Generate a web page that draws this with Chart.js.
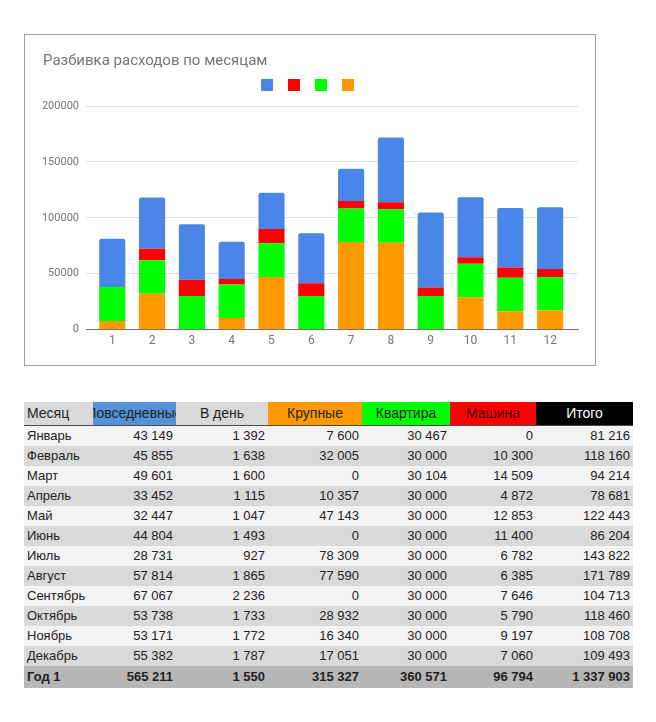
<!DOCTYPE html>
<html>
<head>
<meta charset="utf-8">
<script src="https://cdn.jsdelivr.net/npm/chart.js@4/dist/chart.umd.min.js"></script>
<style>
  html, body { margin: 0; padding: 0; background: #ffffff; }
  body { width: 656px; height: 722px; position: relative; overflow: hidden; }
  #chartBox { position: absolute; left: 24px; top: 34px; width: 570px; height: 330px; border: 1px solid #9e9e9e; }
  #chartBox canvas { display: block; }
  #tbl { position: absolute; left: 24px; top: 402px; border-collapse: collapse; table-layout: fixed; width: 609px;
         font-family: "Liberation Sans", Arial, sans-serif; font-size: 13px; color: #222; }
  #tbl td { padding: 0 3px; height: 20px; line-height: 20px; white-space: nowrap; overflow: hidden; text-align: right; box-sizing: border-box; }
  #tbl td.m { text-align: left; }
  #tbl thead td { height: 23px; line-height: 22px; font-size: 14px; text-align: center; padding: 0; border-bottom: 1px solid #4a4a4a; }
  #tbl thead td.m { text-align: left; padding-left: 3px; }
  #tbl thead td .c { display: flex; justify-content: center; overflow: hidden; white-space: nowrap; }
  #tbl tbody tr:nth-child(odd) td { background: #f3f3f3; }
  #tbl tbody tr:nth-child(even) td { background: #d9d9d9; }
  #tbl tfoot td { background: #b7b7b7; font-weight: bold; height: 22px; line-height: 22px; }
</style>
</head>
<body>
<div id="chartBox"><canvas id="c" width="570" height="330"></canvas></div>
<table id="tbl">
  <colgroup>
    <col style="width:69px"><col style="width:83px"><col style="width:92px"><col style="width:94px">
    <col style="width:88px"><col style="width:86px"><col style="width:97px">
  </colgroup>
  <thead><tr id="hdr"></tr></thead>
  <tbody id="body"></tbody>
  <tfoot><tr id="foot"></tr></tfoot>
</table>
<script>
// ---- data ----
const monthNums   = ['1','2','3','4','5','6','7','8','9','10','11','12'];
const monthNames  = ['Январь','Февраль','Март','Апрель','Май','Июнь','Июль','Август','Сентябрь','Октябрь','Ноябрь','Декабрь'];
const everyday    = [43149, 45855, 49601, 33452, 32447, 44804, 28731, 57814, 67067, 53738, 53171, 55382];
const perDay      = [1392, 1638, 1600, 1115, 1047, 1493, 927, 1865, 2236, 1733, 1772, 1787];
const large       = [7600, 32005, 0, 10357, 47143, 0, 78309, 77590, 0, 28932, 16340, 17051];
const apartment   = [30467, 30000, 30104, 30000, 30000, 30000, 30000, 30000, 30000, 30000, 30000, 30000];
const car         = [0, 10300, 14509, 4872, 12853, 11400, 6782, 6385, 7646, 5790, 9197, 7060];
const totals      = [81216, 118160, 94214, 78681, 122443, 86204, 143822, 171789, 104713, 118460, 108708, 109493];
const yearLabel   = 'Год 1';
const yearRow     = [565211, 1550, 315327, 360571, 96794, 1337903];
const headers     = ['Месяц','Повседневные','В день','Крупные','Квартира','Машина','Итого'];
const yTicks      = [0, 50000, 100000, 150000, 200000];
const chartTitle  = 'Разбивка расходов по месяцам';

// ---- table ----
const headerStyles = [
  {bg:'#d9d9d9', fg:'#222'}, {bg:'#5592d8', fg:'#222'}, {bg:'#d9d9d9', fg:'#222'},
  {bg:'#ff9900', fg:'#222'}, {bg:'#00ff00', fg:'#222'}, {bg:'#ff0000', fg:'#3a0000'}, {bg:'#000000', fg:'#ffffff'}
];
function fmt(n){ return String(n).replace(/\B(?=(\d{3})+(?!\d))/g, ' '); }
const hdr = document.getElementById('hdr');
headers.forEach((h, i) => {
  const td = document.createElement('td');
  td.style.background = headerStyles[i].bg;
  td.style.color = headerStyles[i].fg;
  if (i === 0) { td.className = 'm'; td.textContent = h; }
  else { const d = document.createElement('div'); d.className = 'c'; const s = document.createElement('span'); s.textContent = h; d.appendChild(s); td.appendChild(d); }
  hdr.appendChild(td);
});
const body = document.getElementById('body');
monthNames.forEach((m, i) => {
  const tr = document.createElement('tr');
  const cells = [m, fmt(everyday[i]), fmt(perDay[i]), fmt(large[i]), fmt(apartment[i]), fmt(car[i]), fmt(totals[i])];
  cells.forEach((v, j) => { const td = document.createElement('td'); if (j === 0) td.className = 'm'; td.textContent = v; tr.appendChild(td); });
  body.appendChild(tr);
});
const foot = document.getElementById('foot');
[yearLabel].concat(yearRow.map(fmt)).forEach((v, j) => { const td = document.createElement('td'); if (j === 0) td.className = 'm'; td.textContent = v; foot.appendChild(td); });

// ---- chart ----
const gray = '#757575';
const legendGap = {
  id: 'legendGap',
  beforeInit(chart) {
    const lg = chart.legend;
    if (!lg) return;
    const fit = lg.fit;
    lg.fit = function () { fit.call(this); this.height += 5; };
  }
};
new Chart(document.getElementById('c'), {
  type: 'bar',
  data: {
    labels: monthNums,
    datasets: [
      { label: headers[3], data: large,     backgroundColor: '#ff9900' },
      { label: headers[4], data: apartment, backgroundColor: '#00ff00' },
      { label: headers[5], data: car,       backgroundColor: '#ff0000' },
      { label: headers[1], data: everyday,  backgroundColor: '#4a86e8', borderRadius: {topLeft: 2, topRight: 2} }
    ]
  },
  plugins: [legendGap],
  options: {
    responsive: false,
    animation: false,
    devicePixelRatio: 1,
    layout: { padding: { left: 18, right: 17, top: 0, bottom: 13 } },
    datasets: { bar: { categoryPercentage: 0.8, barPercentage: 0.82 } },
    plugins: {
      title: { display: true, text: chartTitle, align: 'start', color: gray,
               font: { family: 'Roboto', size: 15, weight: 'normal' }, padding: { top: 17, bottom: 0 } },
      legend: { display: true, reverse: true,
        labels: { boxWidth: 12, boxHeight: 12, padding: 9, font: { family: 'Roboto', size: 12 },
          generateLabels: (chart) => chart.data.datasets.map((ds, i) => ({
            text: '', fillStyle: ds.backgroundColor, strokeStyle: ds.backgroundColor, lineWidth: 0, datasetIndex: i, hidden: false
          }))
        }
      },
      tooltip: { enabled: false }
    },
    scales: {
      x: { type: 'linear', stacked: true, min: 0.34, max: 12.7, offset: false,
           afterBuildTicks: (s) => { s.ticks = monthNums.map(v => ({ value: Number(v) })); },
           grid: { display: false, drawTicks: false }, border: { color: gray, width: 1 },
           ticks: { color: gray, font: { family: 'Roboto', size: 12 }, padding: 4, callback: (v) => String(v) } },
      y: { stacked: true, min: 0, max: 200000, afterBuildTicks: (s) => { s.ticks = yTicks.map(v => ({ value: v })); },
           afterFit: (s) => { s.width = 43; },
           grid: { color: '#e0e0e0', drawTicks: false }, border: { display: false },
           ticks: { color: gray, font: { family: 'Roboto', size: 11 }, padding: 7, callback: (v) => String(v) } }
    }
  }
});
</script>
</body>
</html>
